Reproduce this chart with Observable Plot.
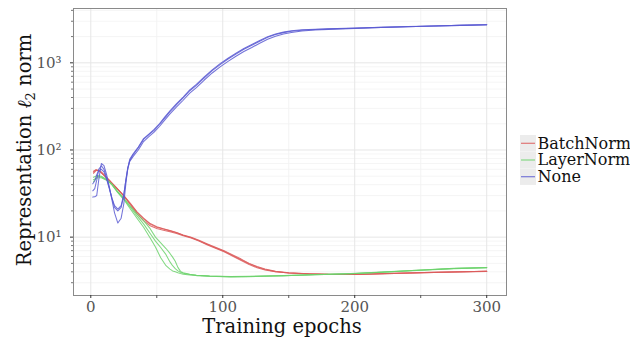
<!DOCTYPE html>
<html>
<head>
<meta charset="utf-8">
<script src="https://cdn.jsdelivr.net/npm/d3@7"></script>
<script src="https://cdn.jsdelivr.net/npm/@observablehq/plot@0.6"></script>
<style>
  html, body { margin: 0; padding: 0; background: #fff; }
  #chart { position: relative; width: 630px; height: 338px; }
</style>
</head>
<body>
<div id="chart"></div>
<script>
// ---- Data ----
const seriesNames = ["BatchNorm", "LayerNorm", "None"];
const seriesColors = ["#dc5a5a", "#6cd26c", "#5b5bd2"];

const epochsNone = [1.5, 3, 4.5, 6, 8, 10, 12, 14, 16, 18, 20.5, 23, 25, 26.5, 28, 29.5, 32, 36, 40, 44, 48, 52, 56, 60, 65, 70, 75, 80, 86, 92, 98, 104, 110, 116, 122, 128, 134, 140, 146, 152, 160, 170, 180, 200, 220, 240, 260, 280, 300];
const noneRun1 = [28.8, 29, 30, 45, 70, 66, 52, 38, 27, 19, 14.5, 16.5, 24, 40, 62, 78, 90, 108, 135, 152, 172, 200, 238, 282, 340, 405, 490, 565, 690, 830, 980, 1130, 1290, 1460, 1620, 1800, 1990, 2140, 2250, 2330, 2390, 2430, 2460, 2510, 2560, 2610, 2650, 2700, 2740];
const noneRun2 = [34, 36, 45, 60, 66, 60, 48, 37, 28, 22, 20, 22, 30, 45, 62, 74, 84, 100, 125, 142, 160, 186, 220, 260, 312, 372, 448, 520, 635, 765, 900, 1040, 1190, 1350, 1500, 1680, 1860, 2020, 2140, 2230, 2320, 2380, 2420, 2480, 2540, 2600, 2640, 2690, 2730];
const noneRun3 = [41, 44, 52, 58, 60, 56, 46, 36, 28, 23, 21, 23, 31, 44, 60, 75, 88, 106, 132, 150, 168, 196, 232, 275, 332, 395, 478, 552, 672, 812, 955, 1105, 1260, 1430, 1590, 1770, 1960, 2110, 2220, 2300, 2370, 2410, 2450, 2490, 2550, 2600, 2640, 2690, 2740];

const epochsBN = [2, 4, 6, 8, 10, 15, 20, 25, 30, 35, 40, 45, 50, 55, 60, 65, 70, 76, 82, 88, 94, 101, 108, 114, 120, 126, 132, 140, 150, 165, 180, 200, 230, 260, 300];
const bnRun1 = [55.6, 59, 58, 55, 51, 43, 36, 30, 24.5, 19.5, 16.5, 14.3, 13.2, 12.5, 11.9, 11.3, 10.6, 10.0, 9.2, 8.4, 7.7, 7.0, 6.2, 5.6, 5.0, 4.6, 4.3, 4.05, 3.9, 3.8, 3.75, 3.73, 3.85, 3.95, 4.07];
const bnRun2 = [54, 58, 58.5, 56, 52, 43.5, 36, 29.5, 23.5, 18.5, 15.5, 13.5, 12.6, 12.0, 11.5, 11.0, 10.4, 9.8, 9.0, 8.2, 7.5, 6.8, 6.0, 5.4, 4.85, 4.45, 4.2, 4.0, 3.87, 3.78, 3.73, 3.72, 3.83, 3.93, 4.05];
const bnRun3 = [57, 59.5, 57.5, 54.5, 51, 43, 36, 30, 24, 19.2, 16.2, 14.1, 13.0, 12.4, 11.8, 11.2, 10.5, 9.9, 9.1, 8.3, 7.6, 6.9, 6.1, 5.5, 4.95, 4.55, 4.25, 4.02, 3.88, 3.8, 3.74, 3.73, 3.84, 3.94, 4.06];

const epochsLN = [2, 5, 8, 12, 16, 20, 25, 30, 35, 40, 45, 49, 53, 57, 60, 62, 64, 66, 68, 70, 75, 80, 90, 106, 120, 146, 170, 197, 220, 247, 275, 300];
const lnRun1 = [48.7, 51, 50, 46, 40, 33, 27, 21, 16.5, 13, 9.8, 7.7, 5.8, 4.7, 4.3, 4.1, 4.0, 3.9, 3.82, 3.75, 3.68, 3.62, 3.55, 3.5, 3.52, 3.6, 3.7, 3.8, 3.95, 4.15, 4.35, 4.46];
const lnRun2 = [45.5, 48, 48, 45, 40, 33.5, 27.5, 22, 17.5, 14.2, 11, 9.0, 7.6, 6.3, 5.2, 4.7, 4.35, 4.1, 3.95, 3.85, 3.72, 3.65, 3.58, 3.53, 3.55, 3.62, 3.72, 3.82, 3.97, 4.18, 4.38, 4.48];
const lnRun3 = [43, 50, 49, 45.5, 40.5, 34, 28, 22.5, 18.5, 15.5, 12.5, 10, 8.6, 7.4, 6.5, 5.9, 5.3, 4.5, 4.05, 3.9, 3.75, 3.66, 3.57, 3.52, 3.54, 3.61, 3.71, 3.81, 3.96, 4.16, 4.36, 4.47];

const xTicks = [0, 100, 200, 300];
const xMinorTicks = [50, 150, 250];
const yTicks = [10, 100, 1000];
const yTickLabels = ["10\u00B9", "10\u00B2", "10\u00B3"];
const xTitle = "Training epochs";

// ---- Build table ----
const data = [];
function addRuns(series, epochs, runs) {
  runs.forEach((vals, r) => {
    vals.forEach((v, i) => data.push({series, run: series + r, epoch: epochs[i], value: v}));
  });
}
addRuns("BatchNorm", epochsBN, [bnRun1, bnRun2, bnRun3]);
addRuns("LayerNorm", epochsLN, [lnRun1, lnRun2, lnRun3]);
addRuns("None", epochsNone, [noneRun1, noneRun2, noneRun3]);

const yMinor = [];
for (const d of [1, 10, 100, 1000]) for (let k = 2; k <= 9; k++) { const v = d * k; if (v > 2.14 && v < 4200) yMinor.push(v); }

const font = "'DejaVu Serif', serif";

const plot = Plot.plot({
  width: 630,
  height: 338,
  marginLeft: 73,
  marginRight: 124,
  marginTop: 8,
  marginBottom: 43,
  style: {fontFamily: font, background: "#fff"},
  x: {domain: [-13.1, 315]},
  y: {type: "log", domain: [2.14, 4200]},
  color: {domain: seriesNames, range: seriesColors},
  marks: [
    Plot.gridX(xMinorTicks, {stroke: "#f0f0f0", strokeOpacity: 1, strokeWidth: 0.8}),
    Plot.gridY(yMinor, {stroke: "#f3f3f3", strokeOpacity: 1, strokeWidth: 0.8}),
    Plot.gridX(xTicks, {stroke: "#e6e6e6", strokeOpacity: 1, strokeWidth: 1}),
    Plot.gridY(yTicks, {stroke: "#e6e6e6", strokeOpacity: 1, strokeWidth: 1}),
    Plot.line(data, {x: "epoch", y: "value", z: "run", stroke: "series", strokeWidth: 1.05, strokeOpacity: 0.85}),
    Plot.frame({stroke: "#8a8a8a", strokeWidth: 1}),
    Plot.axisX(xMinorTicks, {tickSize: 3, tickFormat: () => "", stroke: "#555", label: null}),
    Plot.axisX(xTicks, {tickSize: 3, tickPadding: 3, fontSize: 15, fill: "#555", stroke: "#333", label: null}),
    Plot.axisY(yMinor, {tickSize: 2, tickFormat: () => "", stroke: "#777", label: null}),
    Plot.axisY(yTicks, {tickSize: 3, tickPadding: 9, fontSize: 15, fill: "#555", stroke: "#333", label: null,
      tickFormat: (d) => yTickLabels[yTicks.indexOf(d)]})
  ]
});

document.getElementById("chart").appendChild(plot);

// ---- Titles and legend ----
const svg = d3.select(plot);
svg.append("text")
  .attr("x", 282).attr("y", 333)
  .attr("text-anchor", "middle")
  .style("font-family", font).style("font-size", "19.5px").attr("fill", "#111")
  .text(xTitle);

const yt = svg.append("text")
  .attr("transform", "translate(31,150) rotate(-90)")
  .attr("text-anchor", "middle")
  .style("font-family", font).style("font-size", "19.5px").attr("fill", "#111");
yt.append("tspan").text("Representation ");
yt.append("tspan").style("font-style", "italic").text("\u2113");
yt.append("tspan").attr("dy", 4).style("font-size", "13px").text("2");
yt.append("tspan").attr("dy", -4).text(" norm");

const leg = svg.append("g").attr("transform", "translate(520,135)");
seriesNames.forEach((name, i) => {
  const g = leg.append("g").attr("transform", `translate(0,${i * 16.7})`);
  g.append("rect").attr("x", 0).attr("y", 0).attr("width", 16).attr("height", 16.5)
    .style("fill", "#ececec").style("stroke", "none");
  g.append("line").attr("x1", 1).attr("x2", 15).attr("y1", 8.3).attr("y2", 8.3)
    .style("stroke", seriesColors[i]).style("stroke-width", 1.2).style("stroke-opacity", 0.8);
  g.append("text").attr("x", 17.5).attr("y", 13.5)
    .attr("text-anchor", "start").style("text-anchor", "start")
    .style("font-family", font).style("font-size", "16px").style("fill", "#111").text(name);
});
</script>
</body>
</html>
